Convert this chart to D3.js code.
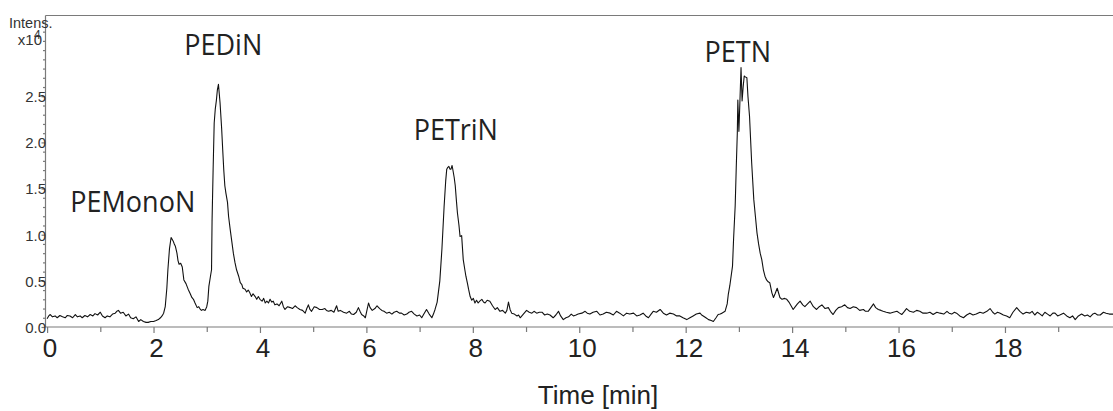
<!DOCTYPE html>
<html>
<head>
<meta charset="utf-8">
<script src="https://cdn.jsdelivr.net/npm/d3@7"></script>
<style>
  body { margin: 0; background: #fff; }
  svg { display: block; }
  .tick-y { font-family: "Liberation Sans", Arial, sans-serif; font-size: 15px; fill: #333; }
  .tick-x { font-family: "Liberation Sans", Arial, sans-serif; font-size: 26px; fill: #222; }
  .titulo-eixo { font-family: "Liberation Sans", Arial, sans-serif; font-size: 26px; fill: #222; }
  .rotulo-pico { font-family: "Open Sans", "Noto Sans", sans-serif; font-size: 27px; fill: #222; }
</style>
</head>
<body>
<svg id="grafico"></svg>
<script>
// ticks and labels
const xTicksMajor = [0, 2, 4, 6, 8, 10, 12, 14, 16, 18];
const xTicksMinor = [1, 3, 5, 7, 9, 11, 13, 15, 17, 19];
const yTicksMajor = [0, 0.5, 1.0, 1.5, 2.0, 2.5];
const yTicksMinor = [0.1, 0.2, 0.3, 0.4, 0.6, 0.7, 0.8, 0.9, 1.1, 1.2, 1.3, 1.4, 1.6, 1.7, 1.8, 1.9,
                     2.1, 2.2, 2.3, 2.4, 2.6, 2.7, 2.8, 2.9, 3.0, 3.1, 3.2, 3.3];
const tituloX = 'Time [min]';

// peak names and where they sit (time, intensity of the label baseline)
const picos = ['PEMonoN', 'PEDiN', 'PETriN', 'PETN'];
const picosTempo = [1.61, 3.31, 7.68, 12.98];
const picosAltura = [1.25, 2.95, 2.03, 2.87];

// chromatogram: [time (min), intensity (x10^4)]
const cromatograma = [
  [0.00,0.09],[0.03,0.12],[0.06,0.135],[0.10,0.11],[0.15,0.12],[0.19,0.10],[0.24,0.125],[0.29,0.11],[0.34,0.10],[0.38,0.125],
  [0.43,0.12],[0.48,0.10],[0.53,0.135],[0.57,0.11],[0.62,0.12],[0.66,0.10],[0.71,0.125],[0.76,0.11],[0.81,0.135],[0.86,0.12],
  [0.90,0.145],[0.95,0.13],[1.00,0.16],[1.04,0.12],[1.09,0.10],[1.13,0.12],[1.18,0.11],[1.23,0.14],[1.28,0.15],[1.31,0.17],
  [1.34,0.18],[1.38,0.15],[1.43,0.16],[1.48,0.12],[1.53,0.14],[1.57,0.10],[1.62,0.09],[1.67,0.11],[1.72,0.06],[1.76,0.08],
  [1.81,0.06],[1.86,0.05],[1.90,0.05],[1.95,0.06],[2.00,0.06],[2.05,0.07],[2.09,0.08],[2.13,0.10],[2.16,0.12],[2.19,0.15],
  [2.22,0.22],[2.25,0.42],[2.27,0.62],[2.30,0.85],[2.33,0.97],[2.35,0.95],[2.37,0.93],[2.39,0.90],[2.41,0.875],[2.44,0.80],
  [2.46,0.72],[2.48,0.68],[2.51,0.69],[2.54,0.65],[2.57,0.51],[2.61,0.47],[2.65,0.41],[2.69,0.36],[2.72,0.32],[2.75,0.30],
  [2.78,0.26],[2.82,0.21],[2.85,0.22],[2.87,0.20],[2.90,0.18],[2.93,0.19],[2.97,0.18],[3.00,0.22],[3.02,0.28],[3.04,0.44],
  [3.07,0.55],[3.09,0.62],[3.10,1.15],[3.12,1.71],[3.14,2.21],[3.16,2.36],[3.18,2.45],[3.20,2.57],[3.22,2.63],[3.25,2.43],
  [3.28,2.15],[3.30,1.92],[3.32,1.70],[3.34,1.53],[3.36,1.45],[3.39,1.35],[3.41,1.20],[3.44,1.06],[3.47,0.93],[3.50,0.80],
  [3.53,0.70],[3.56,0.62],[3.60,0.55],[3.63,0.48],[3.66,0.46],[3.68,0.42],[3.72,0.41],[3.75,0.38],[3.78,0.40],[3.81,0.37],
  [3.84,0.33],[3.87,0.36],[3.91,0.33],[3.94,0.30],[3.97,0.33],[4.00,0.30],[4.04,0.28],[4.07,0.31],[4.10,0.26],[4.13,0.28],
  [4.16,0.26],[4.19,0.30],[4.22,0.27],[4.25,0.28],[4.28,0.24],[4.32,0.25],[4.36,0.23],[4.41,0.28],[4.44,0.22],[4.47,0.19],
  [4.52,0.22],[4.57,0.21],[4.61,0.20],[4.66,0.23],[4.70,0.21],[4.75,0.19],[4.80,0.18],[4.85,0.15],[4.88,0.20],[4.91,0.24],
  [4.94,0.19],[4.97,0.17],[5.02,0.22],[5.07,0.21],[5.12,0.19],[5.17,0.19],[5.22,0.20],[5.25,0.18],[5.29,0.17],[5.34,0.18],
  [5.39,0.16],[5.44,0.23],[5.47,0.17],[5.51,0.18],[5.57,0.16],[5.63,0.15],[5.68,0.17],[5.72,0.14],[5.76,0.135],[5.81,0.16],
  [5.85,0.21],[5.88,0.17],[5.91,0.135],[5.95,0.12],[5.98,0.10],[6.01,0.18],[6.04,0.26],[6.07,0.21],[6.11,0.18],[6.16,0.20],
  [6.20,0.23],[6.25,0.20],[6.29,0.18],[6.33,0.17],[6.38,0.15],[6.43,0.16],[6.48,0.14],[6.52,0.16],[6.57,0.17],[6.62,0.15],
  [6.66,0.15],[6.71,0.13],[6.76,0.14],[6.80,0.16],[6.85,0.17],[6.90,0.14],[6.95,0.12],[7.00,0.13],[7.04,0.10],[7.08,0.14],
  [7.13,0.19],[7.18,0.14],[7.23,0.10],[7.26,0.14],[7.29,0.19],[7.33,0.27],[7.38,0.50],[7.42,0.85],[7.46,1.30],[7.49,1.58],
  [7.51,1.71],[7.53,1.73],[7.55,1.74],[7.57,1.71],[7.59,1.71],[7.61,1.75],[7.62,1.72],[7.65,1.62],[7.67,1.53],[7.69,1.38],
  [7.71,1.24],[7.74,1.10],[7.76,0.98],[7.79,0.99],[7.82,0.73],[7.85,0.62],[7.87,0.55],[7.90,0.47],[7.92,0.41],[7.95,0.33],
  [7.98,0.29],[8.01,0.31],[8.04,0.26],[8.07,0.29],[8.10,0.26],[8.13,0.28],[8.17,0.30],[8.20,0.27],[8.23,0.26],[8.27,0.29],
  [8.32,0.28],[8.37,0.23],[8.42,0.19],[8.46,0.21],[8.51,0.17],[8.56,0.18],[8.61,0.15],[8.64,0.18],[8.67,0.27],[8.70,0.19],
  [8.73,0.15],[8.78,0.14],[8.83,0.12],[8.86,0.13],[8.89,0.10],[8.95,0.14],[9.01,0.18],[9.06,0.16],[9.11,0.15],[9.15,0.17],
  [9.20,0.15],[9.25,0.16],[9.30,0.16],[9.35,0.13],[9.40,0.14],[9.45,0.13],[9.51,0.10],[9.56,0.13],[9.61,0.17],[9.65,0.12],
  [9.70,0.08],[9.75,0.10],[9.80,0.11],[9.85,0.14],[9.89,0.12],[9.94,0.13],[9.98,0.14],[10.05,0.15],[10.11,0.17],[10.15,0.15],
  [10.20,0.14],[10.26,0.16],[10.33,0.17],[10.39,0.13],[10.45,0.14],[10.51,0.16],[10.58,0.15],[10.64,0.13],[10.70,0.17],[10.76,0.15],
  [10.83,0.12],[10.89,0.15],[10.95,0.14],[11.02,0.15],[11.08,0.12],[11.14,0.13],[11.20,0.15],[11.25,0.12],[11.30,0.10],[11.35,0.14],
  [11.39,0.17],[11.45,0.16],[11.52,0.19],[11.58,0.15],[11.64,0.13],[11.70,0.15],[11.77,0.14],[11.83,0.12],[11.89,0.12],[11.95,0.10],
  [12.02,0.08],[12.08,0.10],[12.14,0.12],[12.20,0.14],[12.27,0.15],[12.30,0.13],[12.33,0.12],[12.38,0.10],[12.43,0.08],[12.48,0.07],
  [12.52,0.06],[12.57,0.10],[12.61,0.135],[12.65,0.14],[12.68,0.15],[12.71,0.16],[12.74,0.17],[12.78,0.25],[12.80,0.35],[12.83,0.45],
  [12.88,0.66],[12.90,0.95],[12.93,1.31],[12.95,1.72],[12.97,2.10],[12.98,2.46],[13.00,2.12],[13.02,2.46],[13.04,2.81],[13.06,2.45],
  [13.08,2.60],[13.10,2.72],[13.12,2.71],[13.15,2.70],[13.17,2.50],[13.20,2.28],[13.24,1.78],[13.28,1.38],[13.31,1.20],[13.34,1.02],
  [13.37,0.90],[13.40,0.80],[13.43,0.73],[13.46,0.62],[13.49,0.55],[13.52,0.51],[13.55,0.49],[13.58,0.48],[13.62,0.37],[13.65,0.32],
  [13.68,0.36],[13.72,0.42],[13.75,0.36],[13.77,0.32],[13.81,0.30],[13.86,0.31],[13.90,0.30],[13.94,0.27],[13.98,0.23],[14.02,0.19],
  [14.06,0.22],[14.10,0.25],[14.15,0.28],[14.20,0.24],[14.24,0.22],[14.29,0.25],[14.34,0.28],[14.40,0.22],[14.46,0.19],[14.51,0.22],
  [14.56,0.24],[14.62,0.20],[14.68,0.21],[14.72,0.17],[14.77,0.135],[14.82,0.18],[14.87,0.21],[14.93,0.22],[14.99,0.24],[15.04,0.21],
  [15.09,0.20],[15.15,0.22],[15.21,0.21],[15.27,0.18],[15.34,0.19],[15.38,0.17],[15.43,0.17],[15.48,0.21],[15.53,0.25],[15.57,0.21],
  [15.62,0.19],[15.67,0.18],[15.71,0.17],[15.77,0.16],[15.84,0.15],[15.90,0.16],[15.97,0.17],[16.02,0.15],[16.06,0.135],[16.11,0.17],
  [16.15,0.20],[16.21,0.17],[16.28,0.16],[16.34,0.18],[16.40,0.17],[16.46,0.15],[16.53,0.15],[16.59,0.16],[16.65,0.135],[16.72,0.16],
  [16.78,0.15],[16.85,0.14],[16.91,0.17],[16.95,0.15],[17.00,0.14],[17.05,0.16],[17.09,0.15],[17.15,0.12],[17.22,0.10],[17.28,0.13],
  [17.34,0.15],[17.40,0.13],[17.46,0.14],[17.53,0.16],[17.59,0.15],[17.66,0.17],[17.72,0.20],[17.77,0.16],[17.81,0.14],[17.86,0.16],
  [17.91,0.15],[17.97,0.13],[18.03,0.12],[18.09,0.10],[18.15,0.16],[18.22,0.21],[18.28,0.17],[18.34,0.14],[18.40,0.16],[18.47,0.15],
  [18.51,0.17],[18.56,0.13],[18.61,0.16],[18.66,0.14],[18.70,0.12],[18.75,0.16],[18.80,0.14],[18.85,0.12],[18.90,0.15],[18.94,0.15],
  [18.99,0.12],[19.03,0.13],[19.10,0.15],[19.16,0.12],[19.22,0.10],[19.27,0.12],[19.32,0.08],[19.38,0.12],[19.44,0.14],[19.50,0.12],
  [19.55,0.13],[19.60,0.11],[19.65,0.14],[19.69,0.15],[19.74,0.13],[19.79,0.13],[19.85,0.16],[19.90,0.15],[19.96,0.14],[20.03,0.14]
];

const largura = 1113, altura = 411;
const svg = d3.select('#grafico').attr('width', largura).attr('height', altura);

// plot area in page pixels
const esquerda = 45.5, direita = 1113, topo = 15.5, base = 327;

const x = d3.scaleLinear().domain([-0.03, 20.03]).range([esquerda, direita]);
const y = d3.scaleLinear().domain([0, 3.375]).range([base, topo]);

const corEixo = '#7a7a7a';

// clip for the trace
svg.append('clipPath').attr('id', 'recorte')
  .append('rect').attr('x', esquerda).attr('y', topo).attr('width', direita - esquerda).attr('height', base - topo);

// top frame line
svg.append('line')
  .attr('x1', esquerda).attr('x2', direita).attr('y1', topo).attr('y2', topo)
  .attr('stroke', corEixo).attr('stroke-width', 1.2);

// x axis: major + minor ticks
const eixoX = svg.append('g').attr('transform', `translate(0,${base})`);
eixoX.call(d3.axisBottom(x).tickValues(xTicksMajor).tickSize(6).tickSizeOuter(0).tickFormat(d3.format('d')));
eixoX.selectAll('.tick text').attr('class', 'tick-x').attr('dx', 2.5).attr('y', 12).attr('dy', '0.71em')
  .attr('font-family', null).attr('font-size', null).attr('fill', null);
const minX = svg.append('g').attr('transform', `translate(0,${base})`);
minX.call(d3.axisBottom(x).tickValues(xTicksMinor).tickSize(5).tickFormat(''));
minX.select('.domain').remove();

// y axis: major + minor ticks
const eixoY = svg.append('g').attr('transform', `translate(${esquerda},0)`);
eixoY.call(d3.axisLeft(y).tickValues(yTicksMajor).tickSize(4).tickSizeOuter(0).tickFormat(d3.format('.1f')));
eixoY.selectAll('.tick text').attr('class', 'tick-y').attr('x', 0.5).attr('dy', '0.36em')
  .attr('font-family', null).attr('font-size', null).attr('fill', null);
const minY = svg.append('g').attr('transform', `translate(${esquerda},0)`);
minY.call(d3.axisLeft(y).tickValues(yTicksMinor).tickSize(2.5).tickFormat(''));
minY.select('.domain').remove();

svg.selectAll('.domain, .tick line').attr('stroke', corEixo).attr('stroke-width', 1.2);
eixoX.select('.domain').attr('d', `M${esquerda},0H${direita}`);
eixoY.select('.domain').attr('d', `M0,${topo}V${base}`);

// axis titles
svg.append('text').attr('class', 'titulo-eixo')
  .attr('x', 598).attr('y', 404).attr('text-anchor', 'middle').text(tituloX);

svg.append('text').attr('class', 'tick-y').style('font-size', '14.5px')
  .attr('x', 9).attr('y', 28).text('Intens.');
svg.append('text').attr('class', 'tick-y').style('font-size', '15px')
  .attr('x', 42).attr('y', 45).attr('text-anchor', 'end').text('x10');
svg.append('text').attr('class', 'tick-y').style('font-size', '12px')
  .attr('x', 34).attr('y', 39).text('4');

// chromatogram trace
const linha = d3.line().x(d => x(d[0])).y(d => y(d[1]));
svg.append('path')
  .datum(cromatograma)
  .attr('clip-path', 'url(#recorte)')
  .attr('d', linha)
  .attr('fill', 'none')
  .attr('stroke', '#111')
  .attr('stroke-width', 1.1)
  .attr('stroke-linejoin', 'round');

// peak labels
svg.selectAll('.rotulo-pico')
  .data(picos)
  .enter()
  .append('text')
  .attr('class', 'rotulo-pico')
  .attr('text-anchor', 'middle')
  .attr('transform', (d, i) => `translate(${x(picosTempo[i])},${y(picosAltura[i])}) scale(1,1.06)`)
  .text(d => d);
</script>
</body>
</html>
